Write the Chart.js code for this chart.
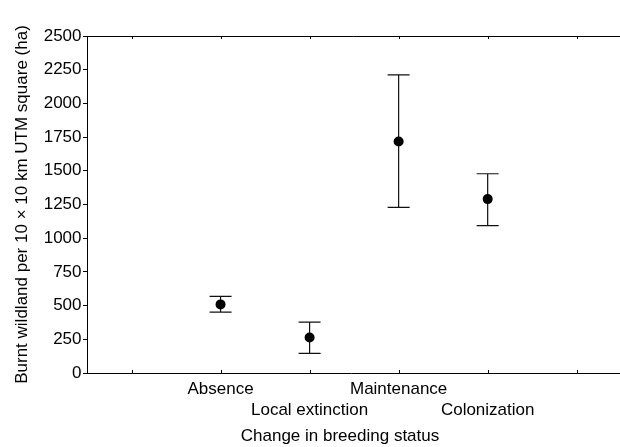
<!DOCTYPE html>
<html><head><meta charset="utf-8">
<script src="https://cdn.jsdelivr.net/npm/chart.js@4/dist/chart.umd.min.js"></script>
<style>html,body{margin:0;padding:0;background:#fff;overflow:hidden}#wrap{width:620px;height:447px;position:relative}</style>
</head><body><div id="wrap"><canvas id="c"></canvas></div>
<script>
const categories = ['Absence', 'Local extinction', 'Maintenance', 'Colonization'];
const categoryPositions = [2, 3, 4, 5];
const labelRows = [0, 1, 0, 1];
const meanValues = [509, 264, 1718, 1290];
const upperValues = [568, 378, 2212, 1478];
const lowerValues = [452, 145, 1228, 1094];
const xTickPositions = [1, 2, 3, 4, 5, 6];
const yTickValues = [0, 250, 500, 750, 1000, 1250, 1500, 1750, 2000, 2250, 2500];
const xTitle = 'Change in breeding status';
const yTitle = 'Burnt wildland per 10 \u00d7 10 km UTM square (ha)';

const FONT = 'Liberation Sans, Arial, Helvetica, sans-serif';

const errorBars = {
  id: 'errorBars',
  beforeDatasetsDraw(chart) {
    const {ctx, scales: {x, y}} = chart;
    ctx.save();
    ctx.strokeStyle = '#111';
    ctx.lineWidth = 1.2;
    categoryPositions.forEach((pos, i) => {
      const px = x.getPixelForValue(pos);
      const pu = y.getPixelForValue(upperValues[i]);
      const pl = y.getPixelForValue(lowerValues[i]);
      ctx.beginPath();
      ctx.moveTo(px, pu); ctx.lineTo(px, pl);
      ctx.moveTo(px - 11, pu); ctx.lineTo(px + 11, pu);
      ctx.moveTo(px - 11, pl); ctx.lineTo(px + 11, pl);
      ctx.stroke();
    });
    ctx.restore();
  }
};

const frame = {
  id: 'frame',
  afterDraw(chart) {
    const {ctx, chartArea: a, scales: {x}} = chart;
    ctx.save();
    ctx.strokeStyle = '#000';
    ctx.lineWidth = 1;
    ctx.beginPath();
    ctx.moveTo(a.left, a.top + 0.5); ctx.lineTo(chart.width, a.top + 0.5);
    ctx.moveTo(a.right, a.bottom + 0.5); ctx.lineTo(chart.width, a.bottom + 0.5);
    xTickPositions.forEach(v => {
      const px = Math.round(x.getPixelForValue(v)) + 0.5;
      ctx.moveTo(px, a.top); ctx.lineTo(px, a.top + 3);
      ctx.moveTo(px, a.bottom); ctx.lineTo(px, a.bottom - 3);
    });
    ctx.stroke();
    ctx.fillStyle = '#000';
    ctx.font = '17px ' + FONT;
    ctx.textAlign = 'center';
    ctx.textBaseline = 'middle';
    ctx.fillText(xTitle, 340, 436);
    ctx.restore();
  }
};

new Chart(document.getElementById('c'), {
  type: 'scatter',
  data: {
    datasets: [{
      data: categoryPositions.map((p, i) => ({x: p, y: meanValues[i]})),
      backgroundColor: '#000',
      borderColor: '#000',
      pointRadius: 5,
      pointBorderWidth: 0,
      showLine: false
    }]
  },
  options: {
    responsive: true,
    maintainAspectRatio: false,
    animation: false,
    devicePixelRatio: 1,
    layout: {padding: {top: 36, left: 0, right: 0, bottom: 0}},
    plugins: {legend: {display: false}, tooltip: {enabled: false}},
    scales: {
      x: {
        type: 'linear',
        min: 0.5,
        max: 6.43,
        grid: {display: false, drawTicks: true, tickLength: 6},
        border: {display: true, color: '#000', width: 1},
        afterBuildTicks: s => { s.ticks = xTickPositions.map(v => ({value: v})); },
        afterFit: s => { s.height = 74; s.paddingLeft = 0; s.paddingRight = 0; },
        ticks: {
          autoSkip: false, maxRotation: 0, minRotation: 0, padding: 0,
          color: '#000',
          font: {family: FONT, size: 17, lineHeight: 21 / 17},
          callback: v => {
            const i = categoryPositions.indexOf(v);
            if (i < 0) return '';
            return labelRows[i] ? ['', categories[i]] : categories[i];
          }
        }
      },
      y: {
        min: 0,
        max: 2500,
        afterBuildTicks: s => { s.ticks = yTickValues.map(v => ({value: v})); },
        afterFit: s => { s.width = 87; },
        grid: {display: true, drawOnChartArea: false, drawTicks: true, tickLength: 4, color: '#000', lineWidth: 1},
        border: {display: true, color: '#000', width: 1},
        ticks: {color: '#000', padding: 1.5, font: {family: FONT, size: 17}, callback: v => String(v)},
        title: {
          display: true, text: yTitle, color: '#000',
          font: {family: FONT, size: 17, lineHeight: 1.2},
          padding: {top: 12, bottom: 0}
        }
      }
    }
  },
  plugins: [errorBars, frame]
});
</script>
</body></html>
